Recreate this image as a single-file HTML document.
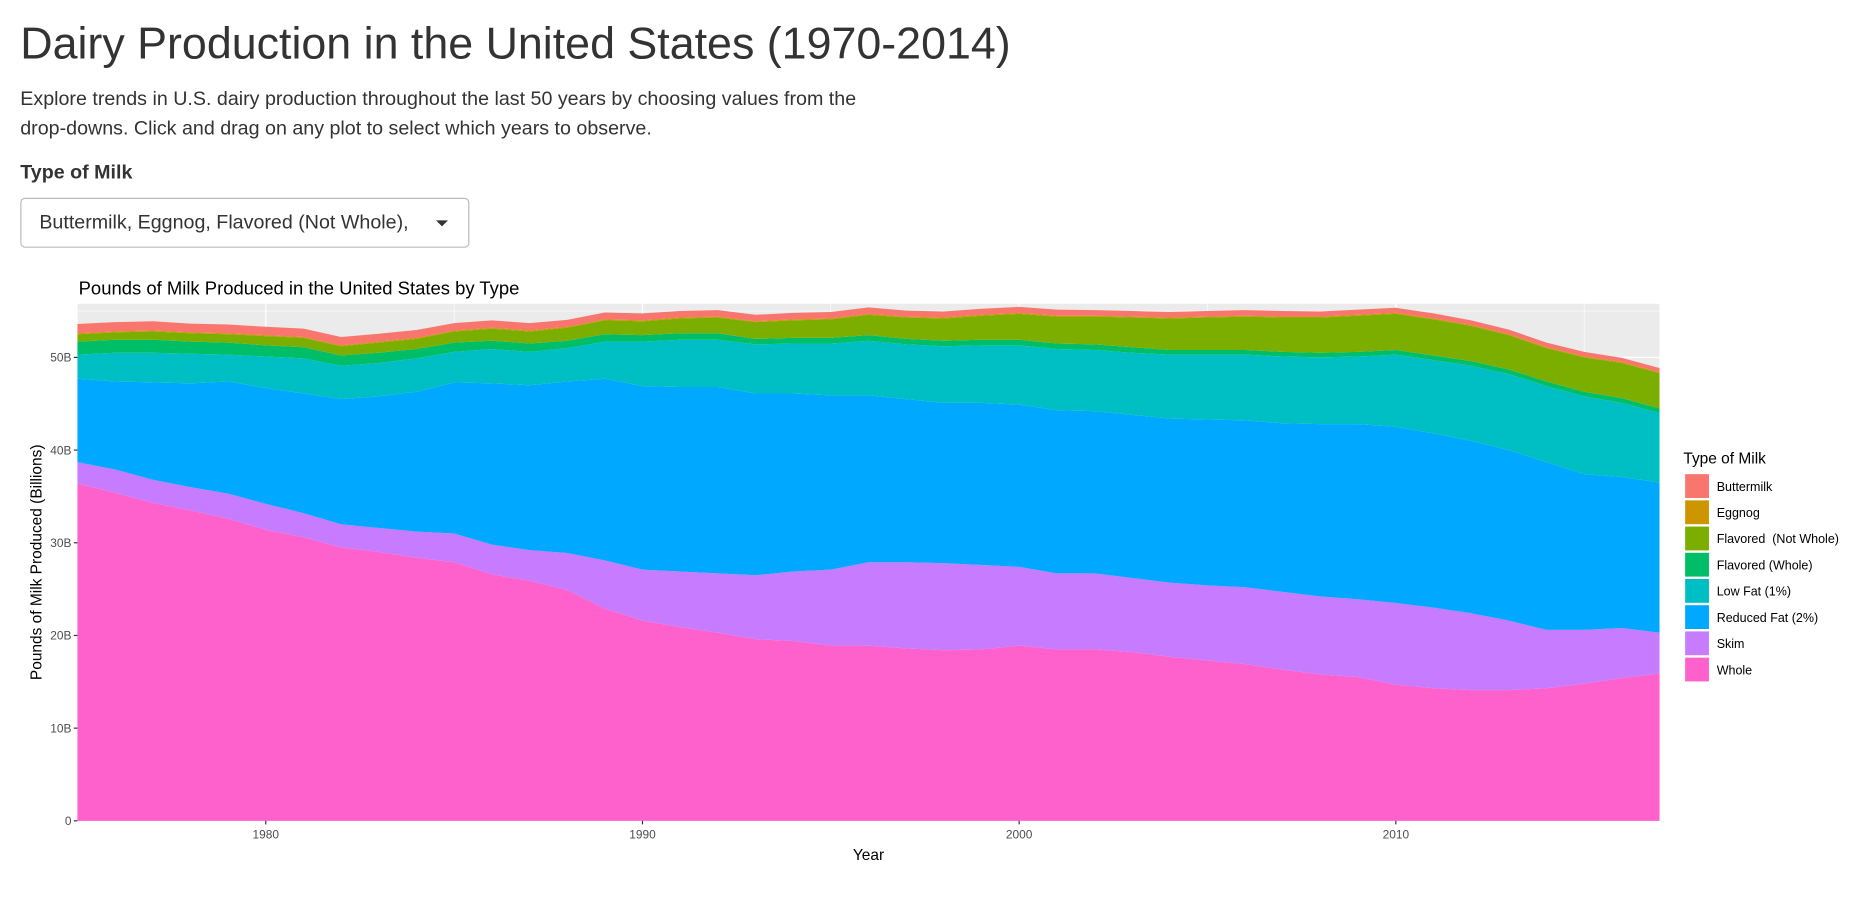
<!DOCTYPE html>
<html><head><meta charset="utf-8">
<style>
html,body{margin:0;padding:0;background:#fff;width:1868px;height:899px;overflow:hidden}
#wrap{width:1568px;height:755px;transform:scale(1.191327);transform-origin:0 0;position:relative;font-family:"Liberation Sans",sans-serif;color:#333}
h1{position:absolute;left:17px;top:15px;margin:0;font-weight:400;font-size:37.6px;color:#333}
.desc{position:absolute;left:17px;top:71px;margin:0;font-size:16.5px;line-height:25px;width:768px}
.nw{white-space:nowrap}
.lbl{position:absolute;left:17px;top:136px;font-weight:700;font-size:16.5px}
.dd{position:absolute;left:17px;top:166px;width:377px;height:42px;border:1px solid #bbb;border-radius:4px;box-sizing:border-box;font-size:16.5px;line-height:40px;padding-left:15px}
.caret{position:absolute;right:17px;top:18px;width:0;height:0;border-left:5px solid transparent;border-right:5px solid transparent;border-top:5px solid #333}
svg{position:absolute;left:0;top:0}
</style></head><body>
<div id="wrap">
<h1>Dairy Production in the United States (1970-2014)</h1>
<p class="desc">Explore trends in U.S. dairy production throughout the last 50 years by choosing values from the <span class="nw">drop-downs.</span> Click and drag on any plot to select which years to observe.</p>
<div class="lbl">Type of Milk</div>
<div class="dd">Buttermilk, Eggnog, Flavored (Not Whole),<span class="caret"></span></div>
<svg id="chart" width="1568" height="755"></svg>
</div>
<script>
const years=[];for(let y=1975;y<=2017;y++)years.push(y);
const seriesNames=["Whole","Skim","Reduced Fat (2%)","Low Fat (1%)","Flavored (Whole)","Flavored\u00a0 (Not Whole)","Eggnog","Buttermilk"];
const colors=["#FF61CC","#C77CFF","#00A9FF","#00BFC4","#00BE67","#7CAE00","#CD9600","#F8766D"];
const whole=[36.4,35.4,34.3,33.5,32.6,31.4,30.6,29.5,29.0,28.4,27.9,26.6,25.9,24.9,22.9,21.6,20.9,20.3,19.6,19.4,18.9,18.9,18.6,18.4,18.5,18.9,18.5,18.5,18.2,17.7,17.3,16.9,16.3,15.8,15.5,14.7,14.3,14.1,14.1,14.3,14.8,15.4,15.9];
const skim=[2.3,2.5,2.5,2.5,2.7,2.8,2.6,2.5,2.6,2.8,3.1,3.2,3.3,4.0,5.2,5.5,6.0,6.4,6.9,7.5,8.2,9.0,9.3,9.4,9.1,8.5,8.2,8.2,8.0,8.0,8.1,8.3,8.4,8.4,8.4,8.8,8.7,8.3,7.5,6.3,5.8,5.4,4.4];
const reducedFat=[9.0,9.5,10.5,11.2,12.1,12.5,12.9,13.5,14.2,15.1,16.3,17.4,17.8,18.5,19.6,19.8,19.9,20.1,19.6,19.2,18.8,18.0,17.6,17.3,17.5,17.5,17.6,17.5,17.6,17.7,17.9,18.0,18.2,18.6,18.9,19.0,18.8,18.6,18.4,18.1,16.8,16.3,16.2];
const lowFat=[2.6,3.1,3.2,3.2,2.9,3.4,3.8,3.6,3.6,3.6,3.3,3.7,3.6,3.6,4.0,4.8,5.1,5.1,5.3,5.4,5.6,5.9,5.9,6.1,6.2,6.4,6.6,6.6,6.7,6.9,7.0,7.1,7.2,7.2,7.3,7.8,7.9,8.1,8.2,8.2,8.4,8.0,7.5];
const flavWhole=[1.4,1.4,1.4,1.3,1.3,1.2,1.2,1.1,1.1,1.0,1.0,0.9,0.9,0.8,0.8,0.7,0.7,0.7,0.6,0.6,0.6,0.6,0.6,0.6,0.6,0.6,0.6,0.6,0.6,0.5,0.5,0.5,0.5,0.5,0.5,0.5,0.5,0.5,0.5,0.5,0.5,0.5,0.5];
const flavNotWhole=[0.8,0.8,0.9,0.9,0.9,1.0,1.0,1.0,1.1,1.1,1.2,1.3,1.3,1.4,1.5,1.5,1.6,1.7,1.8,1.9,2.0,2.2,2.3,2.4,2.6,2.8,2.9,3.0,3.2,3.4,3.5,3.6,3.7,3.8,3.9,3.9,3.9,3.8,3.7,3.6,3.7,3.8,3.8];
const eggnog=[0.1,0.1,0.1,0.1,0.1,0.1,0.1,0.1,0.1,0.1,0.1,0.1,0.1,0.1,0.1,0.1,0.1,0.1,0.1,0.1,0.1,0.1,0.1,0.1,0.1,0.1,0.1,0.1,0.1,0.1,0.1,0.1,0.1,0.1,0.1,0.1,0.1,0.1,0.1,0.1,0.1,0.1,0.1];
const buttermilk=[1.0,1.0,1.0,0.95,0.95,0.9,0.9,0.9,0.85,0.85,0.8,0.8,0.8,0.75,0.75,0.75,0.7,0.7,0.7,0.7,0.7,0.7,0.65,0.65,0.65,0.65,0.65,0.6,0.6,0.6,0.6,0.6,0.6,0.55,0.55,0.55,0.55,0.5,0.5,0.5,0.5,0.45,0.45];
const yTicks=[0,10,20,30,40,50];
const yTickLabels=["0","10B","20B","30B","40B","50B"];
const xTicks=[1980,1990,2000,2010];
const allSeries=[whole,skim,reducedFat,lowFat,flavWhole,flavNotWhole,eggnog,buttermilk];

const NS="http://www.w3.org/2000/svg";
const svg=document.getElementById('chart');
const L=65,R=1393,T=255,B=689;
const xMin=1975,xMax=2017,yMax=(B-T)/7.78;
const xs=v=>L+(v-xMin)/(xMax-xMin)*(R-L);
const ys=v=>B-v/yMax*(B-T);
function mk(tag,attrs,parent){const e=document.createElementNS(NS,tag);for(const k in attrs)e.setAttribute(k,attrs[k]);(parent||svg).appendChild(e);return e;}

const panel=mk('rect',{x:L,y:T,width:R-L,height:B-T,fill:'#EBEBEB'});


for(let v=5;v<yMax;v+=10){const g=mk('line',{x1:L,x2:R,y1:ys(v),y2:ys(v),stroke:'#fff','stroke-width':0.5});}
for(let v=1975;v<=2015;v+=10){const g=mk('line',{x1:xs(v),x2:xs(v),y1:T,y2:B,stroke:'#fff','stroke-width':0.5});}
yTicks.forEach(v=>{const g=mk('line',{x1:L,x2:R,y1:ys(v),y2:ys(v),stroke:'#fff','stroke-width':1.1});});
xTicks.forEach(v=>{const g=mk('line',{x1:xs(v),x2:xs(v),y1:T,y2:B,stroke:'#fff','stroke-width':1.1});});

const cum=years.map(()=>0);
allSeries.forEach((s,si)=>{
  const lower=cum.slice();
  s.forEach((v,i)=>cum[i]+=v);
  let d='M'+years.map((y,i)=>xs(y)+','+ys(cum[i])).join('L');
  for(let i=years.length-1;i>=0;i--)d+='L'+xs(years[i])+','+ys(lower[i]);
  d+='Z';
  const p=mk('path',{d:d,fill:colors[si]});
  
  
});

yTicks.forEach((v,i)=>{
  const t=mk('line',{x1:L-3,x2:L,y1:ys(v),y2:ys(v),stroke:'#333','stroke-width':1});
  
  const tx=mk('text',{x:L-5,y:ys(v)+3.5,'text-anchor':'end','font-size':'10px',fill:'#4D4D4D','font-family':'Liberation Sans, sans-serif'});
  tx.textContent=yTickLabels[i];
  
});
xTicks.forEach(v=>{
  const t=mk('line',{x1:xs(v),x2:xs(v),y1:B,y2:B+3,stroke:'#333','stroke-width':1});
  
  const tx=mk('text',{x:xs(v),y:B+15,'text-anchor':'middle','font-size':'10px',fill:'#4D4D4D','font-family':'Liberation Sans, sans-serif'});
  tx.textContent=String(v);
  
});
let t=mk('text',{x:66,y:247,'font-size':'15.5px',fill:'#000','font-family':'Liberation Sans, sans-serif'});
t.textContent='Pounds of Milk Produced in the United States by Type';

t=mk('text',{x:729,y:722,'text-anchor':'middle','font-size':'13px',fill:'#000','font-family':'Liberation Sans, sans-serif'});
t.textContent='Year';

t=mk('text',{x:0,y:0,'text-anchor':'middle','font-size':'13px',fill:'#000','font-family':'Liberation Sans, sans-serif',transform:'translate(35,472) rotate(-90)'});
t.textContent='Pounds of Milk Produced (Billions)';

t=mk('text',{x:1413,y:389,'font-size':'13px',fill:'#000','font-family':'Liberation Sans, sans-serif'});
t.textContent='Type of Milk';

const legOrder=[7,6,5,4,3,2,1,0];
legOrder.forEach((si,k)=>{
  const y0=397+k*22;
  const r=mk('rect',{x:1414,y:y0+0.5,width:21,height:21,fill:colors[si],stroke:'#fff','stroke-width':1});
  
  const tx=mk('text',{x:1441,y:y0+15,'font-size':'10.5px',fill:'#000','font-family':'Liberation Sans, sans-serif'});
  tx.textContent=seriesNames[si];
  
});
</script>
</body></html>
